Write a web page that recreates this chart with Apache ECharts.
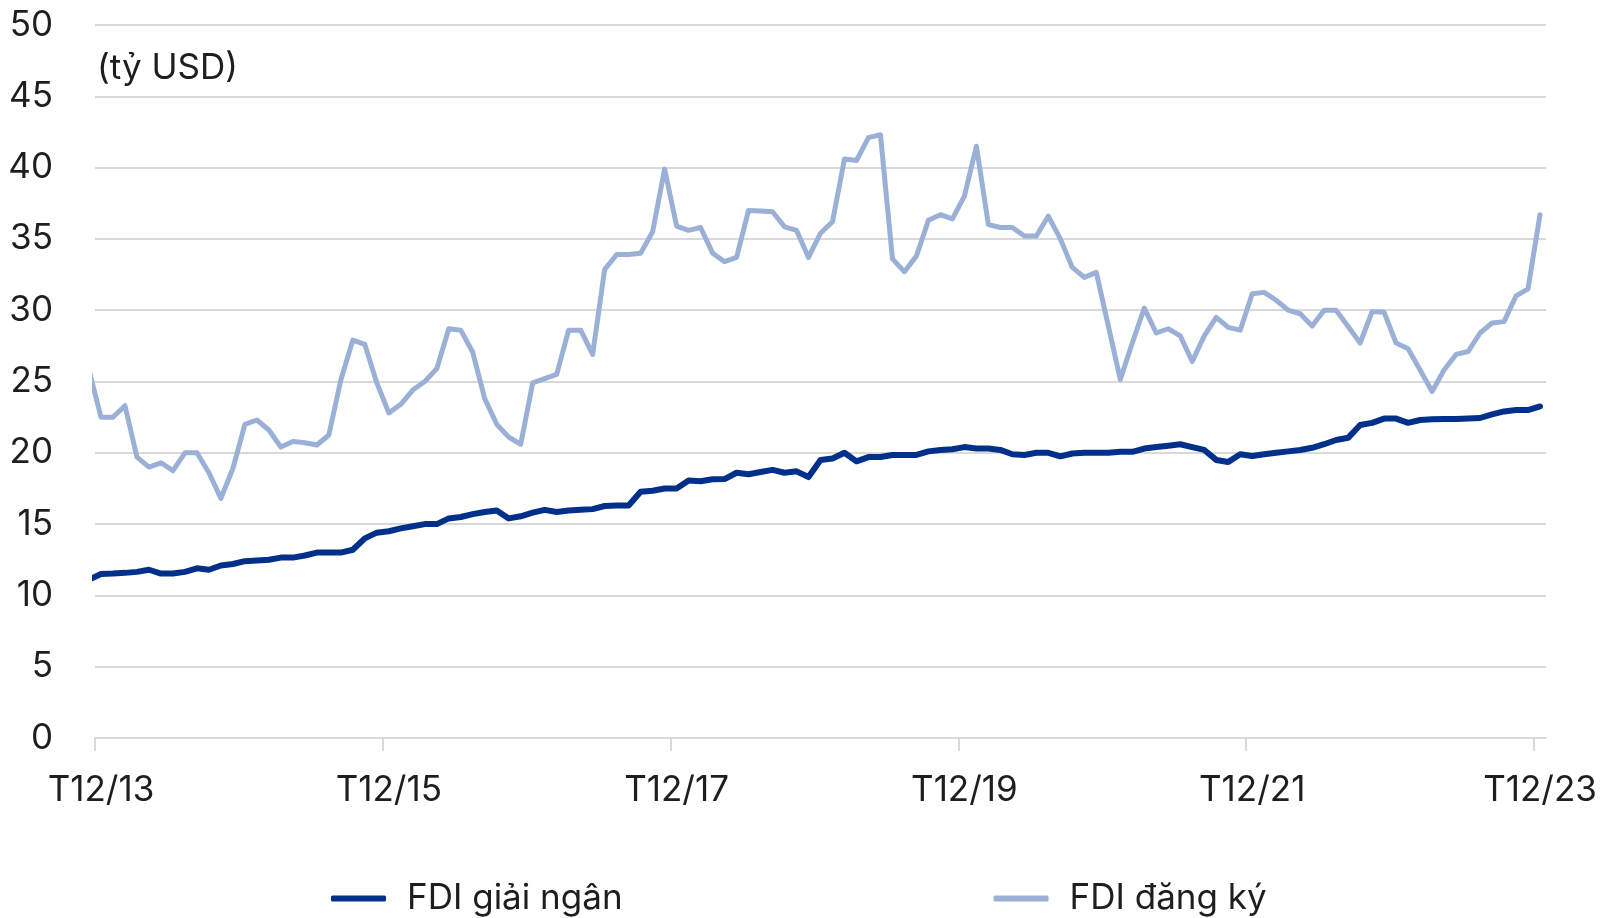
<!DOCTYPE html>
<html><head><meta charset="utf-8">
<script src="https://cdn.jsdelivr.net/npm/echarts@6/dist/echarts.min.js"></script>
<style>html,body{margin:0;padding:0;background:#fff}#c{width:1610px;height:918px}</style>
</head><body><div id="c"></div>
<script>
const months = ['T11/13','T12/13',
'T1/14','T2/14','T3/14','T4/14','T5/14','T6/14','T7/14','T8/14','T9/14','T10/14','T11/14','T12/14',
'T1/15','T2/15','T3/15','T4/15','T5/15','T6/15','T7/15','T8/15','T9/15','T10/15','T11/15','T12/15',
'T1/16','T2/16','T3/16','T4/16','T5/16','T6/16','T7/16','T8/16','T9/16','T10/16','T11/16','T12/16',
'T1/17','T2/17','T3/17','T4/17','T5/17','T6/17','T7/17','T8/17','T9/17','T10/17','T11/17','T12/17',
'T1/18','T2/18','T3/18','T4/18','T5/18','T6/18','T7/18','T8/18','T9/18','T10/18','T11/18','T12/18',
'T1/19','T2/19','T3/19','T4/19','T5/19','T6/19','T7/19','T8/19','T9/19','T10/19','T11/19','T12/19',
'T1/20','T2/20','T3/20','T4/20','T5/20','T6/20','T7/20','T8/20','T9/20','T10/20','T11/20','T12/20',
'T1/21','T2/21','T3/21','T4/21','T5/21','T6/21','T7/21','T8/21','T9/21','T10/21','T11/21','T12/21',
'T1/22','T2/22','T3/22','T4/22','T5/22','T6/22','T7/22','T8/22','T9/22','T10/22','T11/22','T12/22',
'T1/23','T2/23','T3/23','T4/23','T5/23','T6/23','T7/23','T8/23','T9/23','T10/23','T11/23','T12/23'];

const fdiGiaiNgan = [11.1, 11.5, 11.53, 11.58, 11.65, 11.8, 11.53, 11.53, 11.65, 11.9, 11.8, 12.1, 12.2,
 12.4, 12.45, 12.5, 12.65, 12.65, 12.8, 13.0, 13.0, 13.0, 13.2, 14.0, 14.4,
 14.5, 14.7, 14.85, 15.0, 15.0, 15.4, 15.5, 15.7, 15.85, 15.95, 15.4, 15.55,
 15.8, 16.0, 15.85, 15.95, 16.0, 16.05, 16.27, 16.3, 16.3, 17.27, 17.34, 17.5,
 17.5, 18.05, 18.0, 18.14, 18.16, 18.6, 18.5, 18.65, 18.8, 18.6, 18.7, 18.3,
 19.5, 19.6, 20.0, 19.4, 19.7, 19.7, 19.85, 19.85, 19.85, 20.1, 20.2, 20.25,
 20.4, 20.3, 20.3, 20.2, 19.9, 19.85, 20.0, 20.0, 19.75, 19.95, 20.0, 20.0,
 20.0, 20.07, 20.07, 20.3, 20.4, 20.5, 20.6, 20.4, 20.2, 19.5, 19.35, 19.9,
 19.77, 19.9, 20.0, 20.1, 20.2, 20.35, 20.6, 20.9, 21.05, 21.95, 22.1, 22.4,
 22.4, 22.1, 22.3, 22.35, 22.37, 22.37, 22.4, 22.44, 22.7, 22.9, 23.0, 23.0,
 23.25];

const fdiDangKy = [25.8, 22.5, 22.5, 23.3, 19.7, 19.0, 19.3, 18.75, 20.0, 20.0, 18.6, 16.8, 18.9,
 22.0, 22.3, 21.6, 20.4, 20.8, 20.7, 20.55, 21.25, 25.1, 27.9, 27.6, 24.9,
 22.8, 23.4, 24.4, 25.0, 25.9, 28.7, 28.6, 27.05, 23.8, 22.0, 21.1, 20.6,
 24.9, 25.2, 25.5, 28.6, 28.6, 26.9, 32.85, 33.9, 33.9, 34.0, 35.5, 39.9,
 35.9, 35.6, 35.8, 34.0, 33.4, 33.7, 37.0, 36.95, 36.9, 35.85, 35.6, 33.7,
 35.4, 36.2, 40.6, 40.5, 42.1, 42.3, 33.6, 32.7, 33.8, 36.3, 36.7, 36.4,
 38.0, 41.5, 36.0, 35.8, 35.8, 35.2, 35.2, 36.6, 35.0, 33.0, 32.3, 32.65,
 28.9, 25.15, 27.7, 30.15, 28.4, 28.7, 28.2, 26.4, 28.2, 29.5, 28.8, 28.6,
 31.15, 31.25, 30.7, 30.0, 29.75, 28.9, 30.0, 30.0, 28.85, 27.7, 29.9, 29.85,
 27.7, 27.3, 25.8, 24.3, 25.8, 26.9, 27.1, 28.4, 29.1, 29.2, 31.0, 31.5,
 36.7];

const tickLabels = ['T12/13','T12/15','T12/17','T12/19','T12/21','T12/23'];
const yTicks = [0,5,10,15,20,25,30,35,40,45,50];
const seriesNames = ['FDI giải ngân','FDI đăng ký'];
const unitLabel = '(tỷ USD)';

const FONT = 'Inter, Roboto, sans-serif';
// month slots: slot k spans [k-1, k] on the x scale, point at its middle
const toPoints = arr => arr.map((v, i) => [i - 0.5, v]);
const tickPos = tickLabels.map(l => months.indexOf(l) - 1);
const labelPos = tickPos.map(p => p + 0.5);

const chart = echarts.init(document.getElementById('c'), null, {renderer: 'canvas'});
chart.setOption({
  animation: false,
  backgroundColor: '#fff',
  grid: {left: 95, right: 64, top: 25, bottom: 180, containLabel: false},
  xAxis: {
    type: 'value', min: 0, max: months.length - 1,
    splitLine: {show: false},
    axisLine: {show: true, lineStyle: {color: '#d9d9d9', width: 2}},
    axisTick: {show: true, length: 13, lineStyle: {color: '#d9d9d9', width: 2}, customValues: tickPos},
    axisLabel: {
      customValues: labelPos, margin: 35, fontSize: 35, color: '#1e1e1e', fontFamily: FONT,
      formatter: v => months[Math.round(v + 0.5)] || ''
    }
  },
  yAxis: {
    type: 'value', min: yTicks[0], max: yTicks[yTicks.length - 1], interval: 5,
    axisLine: {show: false}, axisTick: {show: false},
    splitLine: {show: true, lineStyle: {color: '#d9d9d9', width: 2}},
    axisLabel: {margin: 42, fontSize: 35, color: '#1e1e1e', fontFamily: FONT}
  },
  legend: {
    left: 326, top: 876, padding: 5, itemWidth: 55, itemHeight: 6, itemGap: 371, icon: 'roundRect',
    textStyle: {fontSize: 35, color: '#1e1e1e', fontFamily: FONT, padding: [0, 0, 0, 16]},
    data: seriesNames
  },
  graphic: [{
    type: 'text', left: 97, top: 51,
    style: {text: unitLabel, fontSize: 35, fill: '#1e1e1e', fontFamily: FONT}
  }],
  series: [
    {name: seriesNames[1], type: 'line', data: toPoints(fdiDangKy), showSymbol: false, symbol: 'none',
     clip: true, color: '#9bb0d6',
     lineStyle: {color: '#9bb0d6', width: 5, cap: 'round', join: 'round'}},
    {name: seriesNames[0], type: 'line', data: toPoints(fdiGiaiNgan), showSymbol: false, symbol: 'none',
     clip: true, color: '#00308a',
     lineStyle: {color: '#00308a', width: 6, cap: 'round', join: 'round'}}
  ]
});
</script></body></html>
